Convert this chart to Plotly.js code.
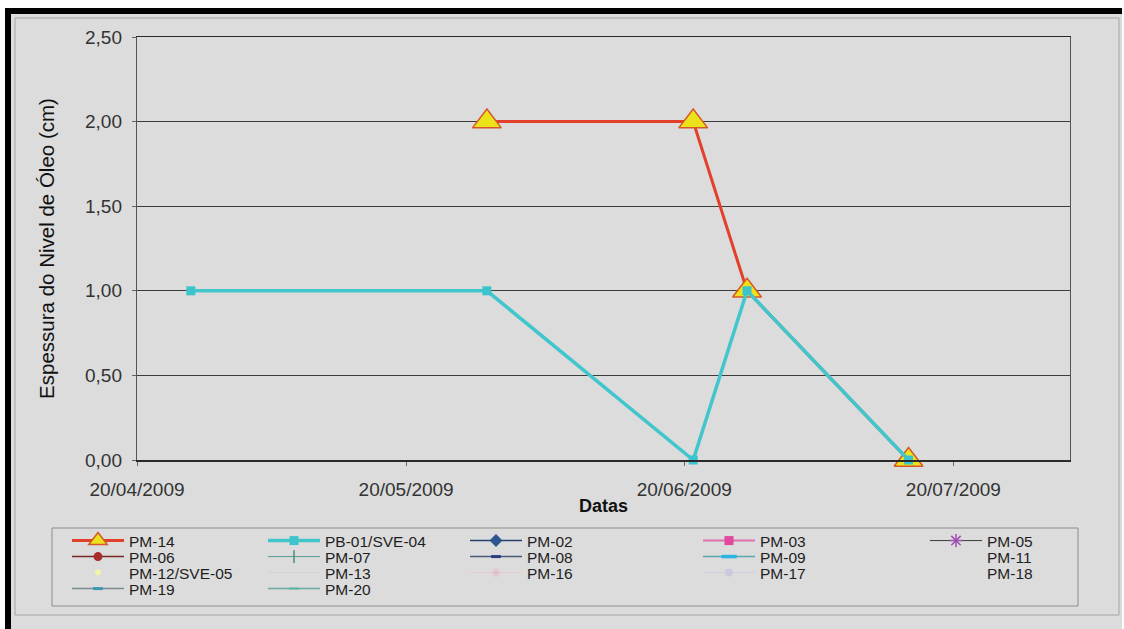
<!DOCTYPE html>
<html>
<head>
<meta charset="utf-8">
<script src="https://cdn.plot.ly/plotly-3.0.1.min.js"></script>
<style>
  html, body { margin: 0; padding: 0; background: #ffffff; }
  #chart { width: 1124px; height: 629px; }
</style>
</head>
<body>
<div id="chart"></div>
<script>
// Oil layer thickness (cm) measured in the monitoring wells
const datesPM14 = ['2009-05-29', '2009-06-21', '2009-06-27', '2009-07-15'];
const valuesPM14 = [2.0, 2.0, 1.0, 0.0];

const datesPB01 = ['2009-04-26', '2009-05-29', '2009-06-21', '2009-06-27', '2009-07-15'];
const valuesPB01 = [1.0, 1.0, 0.0, 1.0, 0.0];

// Wells listed in the legend with no oil recorded in the period
const wellsWithoutOil = ['PM-02', 'PM-03', 'PM-05', 'PM-06', 'PM-07', 'PM-08', 'PM-09', 'PM-11',
  'PM-12/SVE-05', 'PM-13', 'PM-16', 'PM-17', 'PM-18', 'PM-19', 'PM-20'];
const noReading = [null];

// Axis ticks
const yTickValues = [0, 0.5, 1.0, 1.5, 2.0, 2.5];
const xTickDates = ['2009-04-20', '2009-05-20', '2009-06-20', '2009-07-20'];
const xTickLabels = ['20/04/2009', '20/05/2009', '20/06/2009', '20/07/2009'];

// ---- page geometry (pixels) ----
const W = 1124, H = 629;
const M = { l: 137, r: 54, t: 37, b: 169 };
const PW = W - M.l - M.r, PH = H - M.t - M.b;
const px = p => (p - M.l) / PW;          // page x -> paper x
const py = p => (H - M.b - p) / PH;      // page y -> paper y

const FONT = 'Liberation Sans, Arial, sans-serif';

// Marker / line looks of the wells without data (legend swatches)
const wellStyles = {
  'PM-02':        { mode: 'lines+markers', line: { color: '#22406e', width: 1.5 }, marker: { symbol: 'diamond', size: 10, color: '#2c5592' } },
  'PM-03':        { mode: 'lines+markers', line: { color: '#e070b0', width: 2 },   marker: { symbol: 'square', size: 9, color: '#e2489e' } },
  'PM-05':        { mode: 'lines+markers', line: { color: '#3a3a3a', width: 1 },   marker: { symbol: 'asterisk-open', size: 11, color: '#a050b4', line: { width: 1.5 } } },
  'PM-06':        { mode: 'lines+markers', line: { color: '#7a2424', width: 1.5 }, marker: { symbol: 'circle', size: 9, color: '#a82c2c' } },
  'PM-07':        { mode: 'lines+markers', line: { color: '#5a9a90', width: 1 },   marker: { symbol: 'line-ns-open', size: 9, color: '#4a8a80', line: { width: 1.5 } } },
  'PM-08':        { mode: 'lines+markers', line: { color: '#4a5a78', width: 1.5 }, marker: { symbol: 'line-ew-open', size: 7, color: '#2c3c80', line: { width: 3 } } },
  'PM-09':        { mode: 'lines+markers', line: { color: '#5aa8b0', width: 1.5 }, marker: { symbol: 'line-ew-open', size: 11, color: '#2ab4e4', line: { width: 3.5 } } },
  'PM-11':        { mode: 'lines',         line: { color: 'rgba(0,0,0,0)', width: 1 } },
  'PM-12/SVE-05': { mode: 'markers',       marker: { symbol: 'circle', size: 6, color: '#f2f2a8' } },
  'PM-13':        { mode: 'lines',         line: { color: '#d4d4d4', width: 1 } },
  'PM-16':        { mode: 'lines+markers', line: { color: '#e6cad2', width: 1 },   marker: { symbol: 'asterisk-open', size: 8, color: '#e2b4c4', line: { width: 1 } } },
  'PM-17':        { mode: 'lines+markers', line: { color: '#d0d0de', width: 1 },   marker: { symbol: 'circle', size: 8, color: '#cacadc' } },
  'PM-18':        { mode: 'lines',         line: { color: 'rgba(0,0,0,0)', width: 1 } },
  'PM-19':        { mode: 'lines+markers', line: { color: '#7a8a90', width: 1.5 }, marker: { symbol: 'line-ew-open', size: 7, color: '#3c98b4', line: { width: 3 } } },
  'PM-20':        { mode: 'lines+markers', line: { color: '#6aa8a0', width: 1.5 }, marker: { symbol: 'line-ew-open', size: 7, color: '#5ab4a4', line: { width: 2 } } }
};

// Legend grid: 5 columns, one legend object per row
const legendIds = ['legend', 'legend2', 'legend3', 'legend4'];
const legendRowsY = [541, 557, 573, 589];
const legendColWidths = [129, 135, 166, 160, 100];

const traces = [
  {
    name: 'PM-14', x: datesPM14, y: valuesPM14, type: 'scatter', mode: 'lines+markers',
    line: { color: '#e2402a', width: 3 },
    marker: { symbol: 'triangle-up', size: 25, color: '#ece21a', line: { color: '#d6582a', width: 1.5 } },
    cliponaxis: false
  },
  {
    name: 'PB-01/SVE-04', x: datesPB01, y: valuesPB01, type: 'scatter', mode: 'lines+markers',
    line: { color: '#40c6cc', width: 3.5 },
    marker: { symbol: 'square', size: 9, color: '#3cc4cc' },
    cliponaxis: false
  }
];
wellsWithoutOil.forEach(name => {
  traces.push(Object.assign({ name: name, x: noReading, y: noReading, type: 'scatter' }, wellStyles[name]));
});
traces.forEach((t, i) => {
  t.legend = legendIds[Math.floor(i / 5)];
  t.legendwidth = legendColWidths[i % 5];
  t.hoverinfo = 'skip';
});

const legendBase = {
  orientation: 'h', xanchor: 'left', yanchor: 'middle',
  x: px(67), bgcolor: 'rgba(0,0,0,0)', borderwidth: 0, itemwidth: 52,
  font: { family: FONT, size: 15.5, color: '#1e1e1e' }, itemclick: false, itemdoubleclick: false
};

const layout = {
  width: W, height: H,
  margin: Object.assign({ autoexpand: false, pad: 0 }, M),
  paper_bgcolor: '#ffffff',
  plot_bgcolor: 'rgba(0,0,0,0)',
  separators: ',.',
  font: { family: FONT, color: '#333' },
  showlegend: true,
  xaxis: {
    type: 'date',
    range: ['2009-04-20', '2009-08-02'],
    tickmode: 'array', tickvals: xTickDates, ticktext: xTickLabels,
    showgrid: false, zeroline: false,
    showline: true, linecolor: '#2a2a2a', linewidth: 1.5, mirror: true,
    ticks: 'outside', ticklen: 4, tickcolor: '#666',
    ticklabelstandoff: 8,
    tickfont: { family: FONT, size: 19, color: '#333' },
    title: { text: 'Datas', font: { family: FONT, size: 18, color: '#111', weight: 'bold' }, standoff: 0 },
    fixedrange: true
  },
  yaxis: {
    range: [0, 2.5],
    tickmode: 'array', tickvals: yTickValues, tickformat: '.2f',
    showgrid: true, gridcolor: '#3c3c3c', gridwidth: 1,
    zeroline: false,
    showline: true, linecolor: '#555', linewidth: 1.2, mirror: true,
    ticks: 'outside', ticklen: 4, tickcolor: '#666',
    ticklabelstandoff: 6,
    tickfont: { family: FONT, size: 19, color: '#333' },
    title: { text: 'Espessura do Nivel de Óleo (cm)', font: { family: FONT, size: 20.5, color: '#111' }, standoff: 24 },
    fixedrange: true
  },
  shapes: [
    // chart area background
    { type: 'rect', xref: 'paper', yref: 'paper', layer: 'below',
      x0: px(5), x1: px(1122), y0: py(8), y1: py(629),
      fillcolor: '#dcdcdc', line: { width: 0 } },
    // inner chart frame
    { type: 'rect', xref: 'paper', yref: 'paper', layer: 'below',
      x0: px(15), x1: px(1119), y0: py(18), y1: py(615),
      line: { color: '#a4a4a4', width: 1 } },
    // thick dark edges
    { type: 'rect', xref: 'paper', yref: 'paper', layer: 'above',
      x0: px(5), x1: px(11), y0: py(8), y1: py(629),
      fillcolor: '#000', line: { width: 0 } },
    { type: 'rect', xref: 'paper', yref: 'paper', layer: 'above',
      x0: px(5), x1: px(1122), y0: py(8), y1: py(14),
      fillcolor: '#000', line: { width: 0 } },
    // legend box
    { type: 'rect', xref: 'paper', yref: 'paper', layer: 'below',
      x0: px(52), x1: px(1078), y0: py(528), y1: py(606),
      line: { color: '#8c8c8c', width: 1 } }
  ]
};
legendIds.forEach((id, r) => {
  layout[id] = Object.assign({}, legendBase, { y: py(legendRowsY[r]) });
});

Plotly.newPlot('chart', traces, layout, { displayModeBar: false, staticPlot: true });
</script>
</body>
</html>
